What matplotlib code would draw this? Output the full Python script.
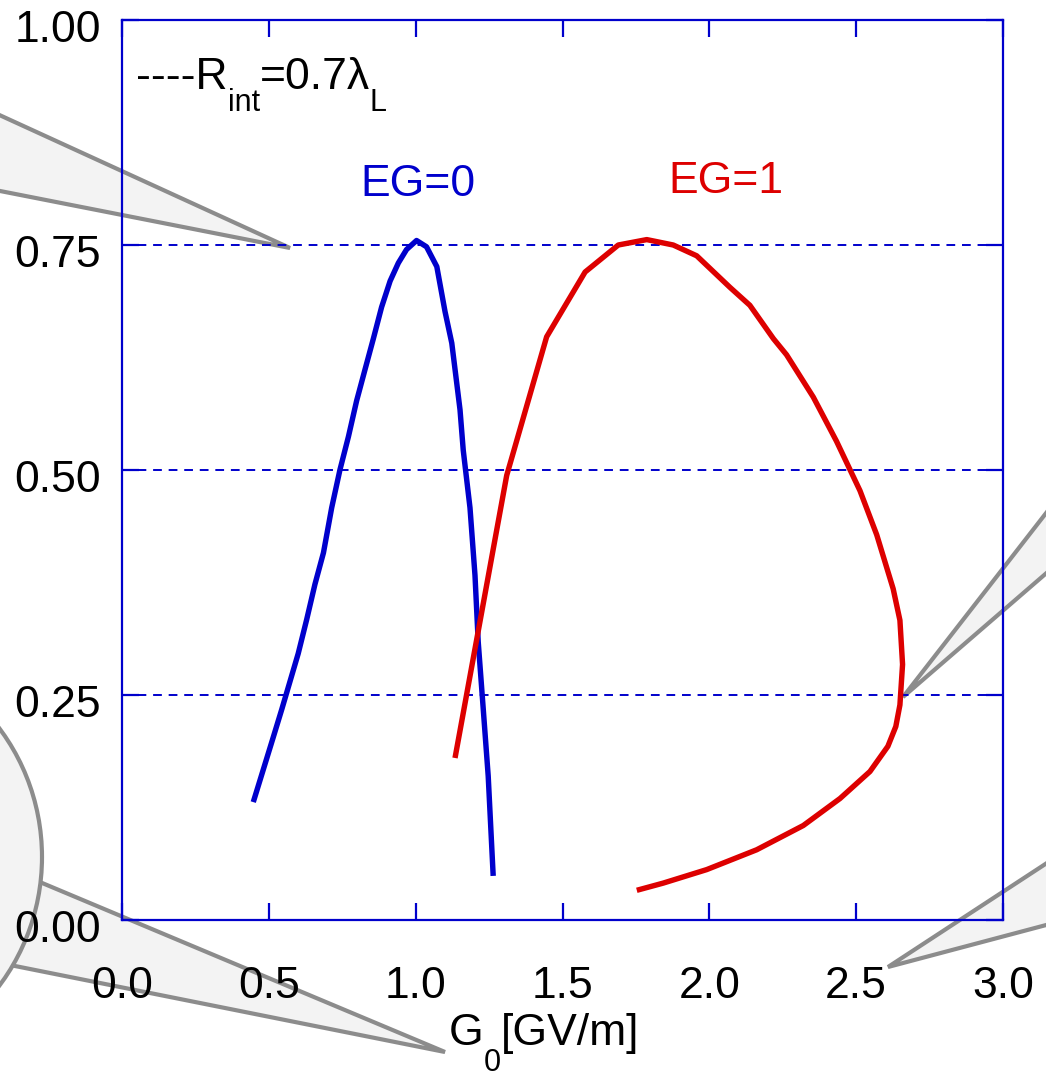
import matplotlib
matplotlib.use("Agg")
import matplotlib.pyplot as plt
from matplotlib.patches import Polygon, Circle
import matplotlib.transforms as mtransforms

plt.rcParams['font.family'] = ['Liberation Sans', 'DejaVu Sans']

# EG=0 curve (G0 [GV/m], y)
eg0_x = [0.447, 0.481, 0.515, 0.544, 0.572, 0.600, 0.629, 0.657, 0.686, 0.714, 0.742,
         0.771, 0.799, 0.827, 0.856, 0.884, 0.913, 0.941, 0.969, 1.003,
         1.037, 1.072, 1.100, 1.123, 1.151, 1.162, 1.185, 1.202, 1.213, 1.230, 1.247, 1.264]
eg0_y = [0.131, 0.167, 0.203, 0.234, 0.265, 0.296, 0.334, 0.373, 0.408, 0.458, 0.500,
         0.537, 0.577, 0.611, 0.646, 0.681, 0.710, 0.730, 0.745, 0.755,
         0.748, 0.726, 0.676, 0.641, 0.567, 0.522, 0.458, 0.383, 0.309, 0.235, 0.160, 0.049]

# EG=1 curve
eg1_x = [1.134, 1.310, 1.446, 1.577, 1.690, 1.787, 1.877, 1.957, 2.070, 2.138, 2.218,
         2.263, 2.354, 2.433, 2.513, 2.570, 2.598, 2.626, 2.649, 2.658, 2.649, 2.635,
         2.608, 2.547, 2.445, 2.320, 2.161, 1.991, 1.843, 1.753]
eg1_y = [0.180, 0.494, 0.648, 0.720, 0.750, 0.756, 0.750, 0.738, 0.703, 0.683, 0.646,
         0.628, 0.581, 0.532, 0.477, 0.428, 0.398, 0.368, 0.333, 0.284, 0.239, 0.215,
         0.193, 0.165, 0.135, 0.105, 0.078, 0.056, 0.041, 0.033]

x_ticks = [0.0, 0.5, 1.0, 1.5, 2.0, 2.5, 3.0]
x_ticklabels = ['0.0', '0.5', '1.0', '1.5', '2.0', '2.5', '3.0']
y_ticks = [0.00, 0.25, 0.50, 0.75, 1.00]
y_ticklabels = ['0.00', '0.25', '0.50', '0.75', '1.00']
grid_levels = [0.25, 0.50, 0.75]

BLUE = '#0000cc'
RED = '#dd0000'
W, H = 1046, 1078
FS = 32
SUB = 22

fig = plt.figure(figsize=(W / 100, H / 100), dpi=100)
fig.patch.set_facecolor('white')
ax = fig.add_axes([122 / W, 1 - 920 / H, (1003 - 122) / W, (920 - 20) / H])
ax.set_facecolor('none')

# decorative callouts (figure pixel coords -> fraction)
def P(pts):
    return [(x / W, 1 - y / H) for x, y in pts]

callout_kw = dict(facecolor='#f3f3f3', edgecolor='#8c8c8c', linewidth=3,
                  transform=fig.transFigure, zorder=-1, joinstyle='miter')
fig.patches.append(Polygon(P([(-5, 113), (290, 248), (-5, 190)]), closed=True, **callout_kw))
fig.patches.append(Polygon(P([(1050, 508), (903, 697), (1050, 570)]), closed=True, **callout_kw))
fig.patches.append(Polygon(P([(1050, 861), (888, 967), (1050, 924)]), closed=True, **callout_kw))
fig.patches.append(Polygon(P([(35, 880), (445, 1052), (10, 965)]), closed=True, **callout_kw))
fig.patches.append(Circle((-162 / W, 1 - 857 / H), 204 / W, **callout_kw))

for lv in grid_levels:
    ax.axhline(lv, color=BLUE, lw=1.4, ls=(0, (4.5, 3.5)), zorder=1)

ax.plot(eg0_x, eg0_y, color=BLUE, lw=3.9, solid_capstyle='butt', solid_joinstyle='round', zorder=3)
ax.plot(eg1_x, eg1_y, color=RED, lw=3.9, solid_capstyle='butt', solid_joinstyle='round', zorder=3)

ax.set_xlim(0, 3)
ax.set_ylim(0, 1)
ax.set_xticks(x_ticks)
ax.set_xticklabels(x_ticklabels)
ax.set_yticks(y_ticks)
ax.set_yticklabels(y_ticklabels)
for s in ax.spines.values():
    s.set_color(BLUE)
    s.set_linewidth(1.6)
ax.tick_params(axis='both', which='both', direction='in', length=12, width=1.6, color=BLUE,
               top=True, right=True, labelsize=32, labelcolor='black')
ax.tick_params(axis='x', pad=33)
ax.tick_params(axis='y', pad=15)
shift = mtransforms.ScaledTranslation(0, -6 / 100, fig.dpi_scale_trans)
for lab in ax.get_yticklabels():
    lab.set_transform(lab.get_transform() + shift)

renderer = fig.canvas.get_renderer()

def compose(pieces, x0, base):
    """pieces: (string, fontsize, baseline drop px, color); positions in figure pixels (y from top)."""
    x = x0
    for s, size, dy, color in pieces:
        t = fig.text(x / W, 1 - (base + dy) / H, s, fontsize=size, color=color,
                     ha='left', va='baseline')
        x += t.get_window_extent(renderer).width

compose([('----R', FS, 0, 'black'), ('int', SUB, 22, 'black'),
         ('=0.7\u03bb', FS, 0, 'black'), ('L', SUB, 22, 'black')], 136, 89)

compose([('G', FS, 0, 'black'), ('0', SUB, 26, 'black'), ('[GV/m]', FS, 0, 'black')], 449, 1045)

fig.text(418 / W, 1 - 196 / H, 'EG=0', fontsize=FS, color=BLUE, ha='center', va='baseline')
fig.text(726 / W, 1 - 193 / H, 'EG=1', fontsize=FS, color=RED, ha='center', va='baseline')

fig.savefig('out.png', dpi=100, facecolor='white')
